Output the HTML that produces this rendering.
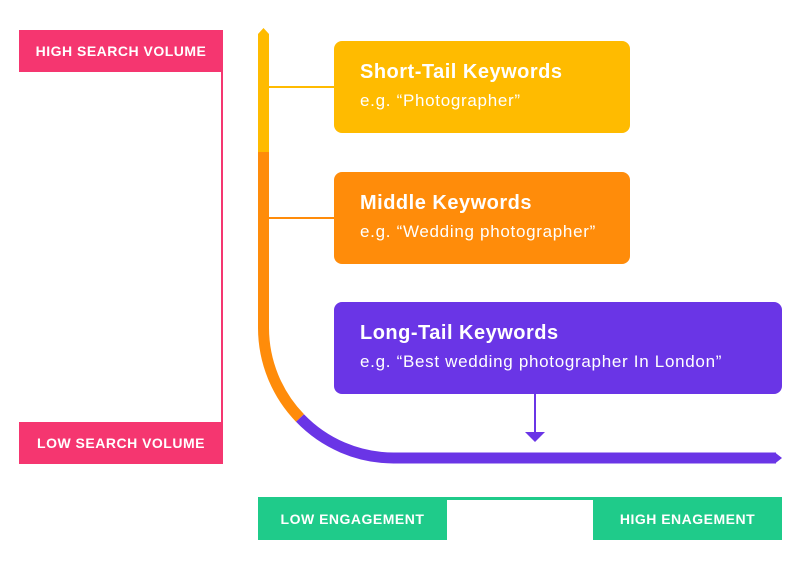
<!DOCTYPE html>
<html><head><meta charset="utf-8"><style>
body{margin:0;width:800px;height:568px;background:#fff;overflow:hidden;font-family:"Liberation Sans",sans-serif;position:relative}
.a{position:absolute}
.lab{color:#fff;font-weight:bold;font-size:14px;letter-spacing:0.5px;display:flex;align-items:center;justify-content:center}
.box{position:absolute;border-radius:8px;color:#fff}
.box b{position:absolute;left:26px;top:20px;font-size:20px;letter-spacing:0.5px;white-space:nowrap}
.box span{position:absolute;left:26px;top:50px;font-size:17px;letter-spacing:0.7px;white-space:nowrap}
</style></head><body>
<div class="a lab" style="left:19px;top:30px;width:204px;height:42px;background:#F53670">HIGH SEARCH VOLUME</div>
<div class="a" style="left:221px;top:72px;width:2px;height:350px;background:#F53670"></div>
<div class="a lab" style="left:19px;top:422px;width:204px;height:42px;background:#F53670">LOW SEARCH VOLUME</div>

<svg class="a" style="left:0;top:0" width="800" height="568">
<line x1="269" y1="87" x2="334" y2="87" stroke="#FFBB00" stroke-width="2"/>
<line x1="269" y1="218" x2="334" y2="218" stroke="#FF8C0A" stroke-width="2"/>
<polygon points="258,34 263.5,28 269,34 269,152 258,152" fill="#FFBB00"/>
<path d="M263.5 152 V328 A130 130 0 0 0 300 418" fill="none" stroke="#FF8C0A" stroke-width="11"/>
<path d="M300 418 A130 130 0 0 0 393.5 458 H776" fill="none" stroke="#6A35E6" stroke-width="11"/>
<polygon points="775,452.5 782,458 775,463.5" fill="#6A35E6"/>
<line x1="535" y1="394" x2="535" y2="433" stroke="#6A35E6" stroke-width="2"/>
<polygon points="525,432 545,432 535,442" fill="#6A35E6"/>
<rect x="258" y="497" width="524" height="3" fill="#1FCB8A"/>
</svg>

<div class="box" style="left:334px;top:41px;width:296px;height:92px;background:#FFBB00"><b>Short-Tail Keywords</b><span>e.g. “Photographer”</span></div>
<div class="box" style="left:334px;top:172px;width:296px;height:92px;background:#FF8C0A"><b>Middle Keywords</b><span>e.g. “Wedding photographer”</span></div>
<div class="box" style="left:334px;top:302px;width:448px;height:92px;background:#6A35E6"><b>Long-Tail Keywords</b><span>e.g. “Best wedding photographer In London”</span></div>

<div class="a lab" style="left:258px;top:497px;width:189px;height:43px;background:#1FCB8A">LOW ENGAGEMENT</div>
<div class="a lab" style="left:593px;top:497px;width:189px;height:43px;background:#1FCB8A">HIGH ENAGEMENT</div>
</body></html>
